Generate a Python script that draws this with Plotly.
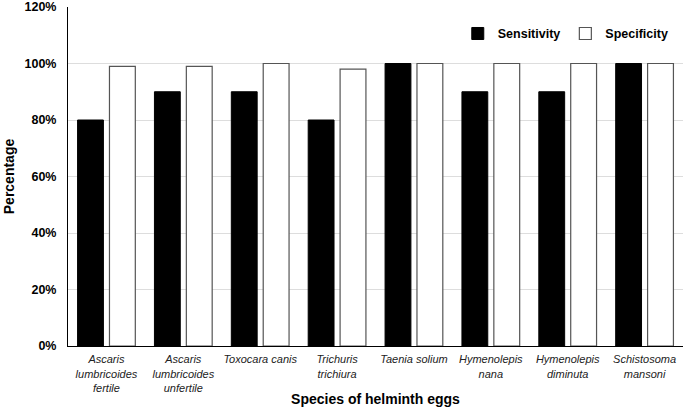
import plotly.graph_objects as go

categories = [
    "Ascaris<br>lumbricoides<br>fertile",
    "Ascaris<br>lumbricoides<br>unfertile",
    "Toxocara canis",
    "Trichuris<br>trichiura",
    "Taenia solium",
    "Hymenolepis<br>nana",
    "Hymenolepis<br>diminuta",
    "Schistosoma<br>mansoni",
]
sensitivity = [80, 90, 90, 80, 100, 90, 90, 100]
specificity = [99, 99, 100, 98, 100, 100, 100, 100]

font_family = "Liberation Sans, Arial, sans-serif"

fig = go.Figure()
fig.add_trace(go.Bar(
    name="Sensitivity", x=categories, y=sensitivity,
    marker=dict(color="black", line=dict(color="black", width=1)),
))
fig.add_trace(go.Bar(
    name="Specificity", x=categories, y=specificity,
    marker=dict(color="white", line=dict(color="#555555", width=1.2)),
))

fig.update_layout(
    width=685, height=407,
    margin=dict(l=68, r=2, t=7, b=61, autoexpand=False),
    paper_bgcolor="white", plot_bgcolor="white",
    barmode="group", bargap=0.17, bargroupgap=0.19,
    font=dict(family=font_family, color="black"),
    legend=dict(
        orientation="h", x=0.985, xanchor="right", y=0.965, yanchor="top",
        font=dict(size=12.5, family=font_family, weight="bold"),
        bgcolor="rgba(0,0,0,0)", itemwidth=30, tracegroupgap=0,
    ),
    xaxis=dict(
        automargin=False,
        showline=True, linecolor="black", linewidth=1,
        tickfont=dict(size=11, style="italic", color="#222222"),
        title=dict(text="<b>Species of helminth eggs</b>", font=dict(size=14), standoff=2),
        ticks="outside", ticklen=3, tickcolor="rgba(0,0,0,0)",
    ),
    yaxis=dict(
        automargin=False,
        range=[0, 120], dtick=20, ticksuffix="%",
        showline=True, linecolor="black", linewidth=1,
        showgrid=True, gridcolor="#dddddd", gridwidth=1,
        tickfont=dict(size=12.5, weight="bold"),
        ticks="outside", ticklen=8, tickcolor="rgba(0,0,0,0)",
        title=dict(text="<b>Percentage</b>", font=dict(size=14), standoff=6),
        zeroline=False,
    ),
)

fig.write_html(
    "out.html",
    config={"displayModeBar": False},
    post_script="document.body.style.margin='0';document.body.style.overflow='hidden';",
)
